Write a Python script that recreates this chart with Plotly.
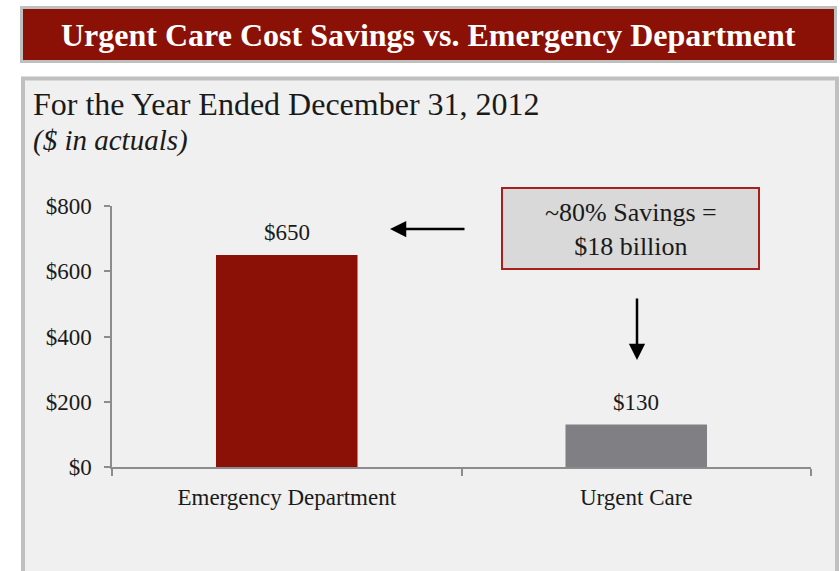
import plotly.graph_objects as go

# ---- data ----
categories = ["Emergency Department", "Urgent Care"]
costs = [650, 130]
value_labels = ["$650", "$130"]
bar_colors = ["#8b1005", "#808084"]
y_tickvals = [0, 200, 400, 600, 800]
y_ticktext = ["$0", "$200", "$400", "$600", "$800"]
title_text = "Urgent Care Cost Savings vs. Emergency Department"
subtitle_text = "For the Year Ended December 31, 2012"
unit_text = "($ in actuals)"
callout_text = "~80% Savings =<br>$18 billion"

# ---- layout geometry (pixels) ----
FIG_W, FIG_H = 840, 571
L, R, T, B = 112, 811, 206, 467
W, H = R - L, B - T
FONT = "Liberation Serif, Times New Roman, serif"


def px(x):
    return (x - L) / W


def py(y):
    return (B - y) / H


fig = go.Figure()
fig.add_trace(go.Bar(
    x=categories, y=costs, marker=dict(color=bar_colors, line=dict(width=0)),
    width=0.405, hoverinfo="skip",
))

shapes = [
    # gray panel
    dict(type="rect", xref="paper", yref="paper", layer="below",
         x0=px(23), x1=px(837), y0=py(78.5), y1=py(620),
         fillcolor="#f0f0f0", line=dict(color="#c0c0c0", width=4)),
    # banner
    dict(type="rect", xref="paper", yref="paper", layer="below",
         x0=px(21.5), x1=px(835.5), y0=py(7.5), y1=py(61.5),
         fillcolor="#8b1005", line=dict(color="#bfbfbf", width=3)),
    # callout box
    dict(type="rect", xref="paper", yref="paper", layer="above",
         x0=px(502), x1=px(759), y0=py(188), y1=py(269),
         fillcolor="#d9d9d9", line=dict(color="#a8201c", width=2)),
]

annotations = [
    dict(text=f"<b>{title_text}</b>", xref="paper", yref="paper",
         x=px(428), y=py(35), xanchor="center", yanchor="middle", showarrow=False,
         font=dict(family=FONT, size=32, color="white")),
    dict(text=subtitle_text, xref="paper", yref="paper",
         x=px(31), y=py(104), xanchor="left", yanchor="middle", showarrow=False,
         font=dict(family=FONT, size=32, color="#1a1a1a")),
    dict(text=f"<i>{unit_text}</i>", xref="paper", yref="paper",
         x=px(31), y=py(140), xanchor="left", yanchor="middle", showarrow=False,
         font=dict(family=FONT, size=29, color="#1a1a1a")),
    dict(text=callout_text, xref="paper", yref="paper",
         x=px(630.5), y=py(229), xanchor="center", yanchor="middle", showarrow=False,
         font=dict(family=FONT, size=26, color="#1a1a1a")),
    # left arrow
    dict(text="", xref="paper", yref="paper", x=px(390), y=py(229),
         ax=76, ay=0, showarrow=True, arrowhead=2, arrowsize=1.3,
         arrowwidth=2.5, arrowcolor="black", standoff=0),
    # down arrow
    dict(text="", xref="paper", yref="paper", x=px(637), y=py(360),
         ax=0, ay=-63, showarrow=True, arrowhead=2, arrowsize=1.3,
         arrowwidth=2.5, arrowcolor="black", standoff=0),
]

for cat, val, lab in zip(categories, costs, value_labels):
    annotations.append(dict(
        text=lab, x=cat, y=val, xref="x", yref="y", yanchor="bottom",
        yshift=8, showarrow=False,
        font=dict(family=FONT, size=23, color="#1a1a1a")))

fig.update_layout(
    width=FIG_W, height=FIG_H, autosize=False,
    margin=dict(l=L, r=FIG_W - R, t=T, b=FIG_H - B, pad=0),
    paper_bgcolor="white", plot_bgcolor="rgba(0,0,0,0)",
    showlegend=False, shapes=shapes, annotations=annotations,
    font=dict(family=FONT, color="#1a1a1a"),
)
fig.update_xaxes(
    range=[-0.5, 1.5], showline=True, linecolor="#8c8c8c", linewidth=1.5,
    ticks="outside", ticklen=7, tickcolor="#8c8c8c", tickwidth=1.5,
    tickson="boundaries", showgrid=False, zeroline=False,
    tickfont=dict(family=FONT, size=23, color="#1a1a1a"), ticklabelstandoff=9,
)
fig.update_yaxes(
    range=[0, 800], tickvals=y_tickvals, ticktext=y_ticktext,
    showline=True, linecolor="#8c8c8c", linewidth=1.5,
    ticks="outside", ticklen=6, tickcolor="#8c8c8c", tickwidth=1.5,
    showgrid=False, zeroline=False,
    tickfont=dict(family=FONT, size=23, color="#1a1a1a"), ticklabelstandoff=8,
)

fig.write_html("out.html")
